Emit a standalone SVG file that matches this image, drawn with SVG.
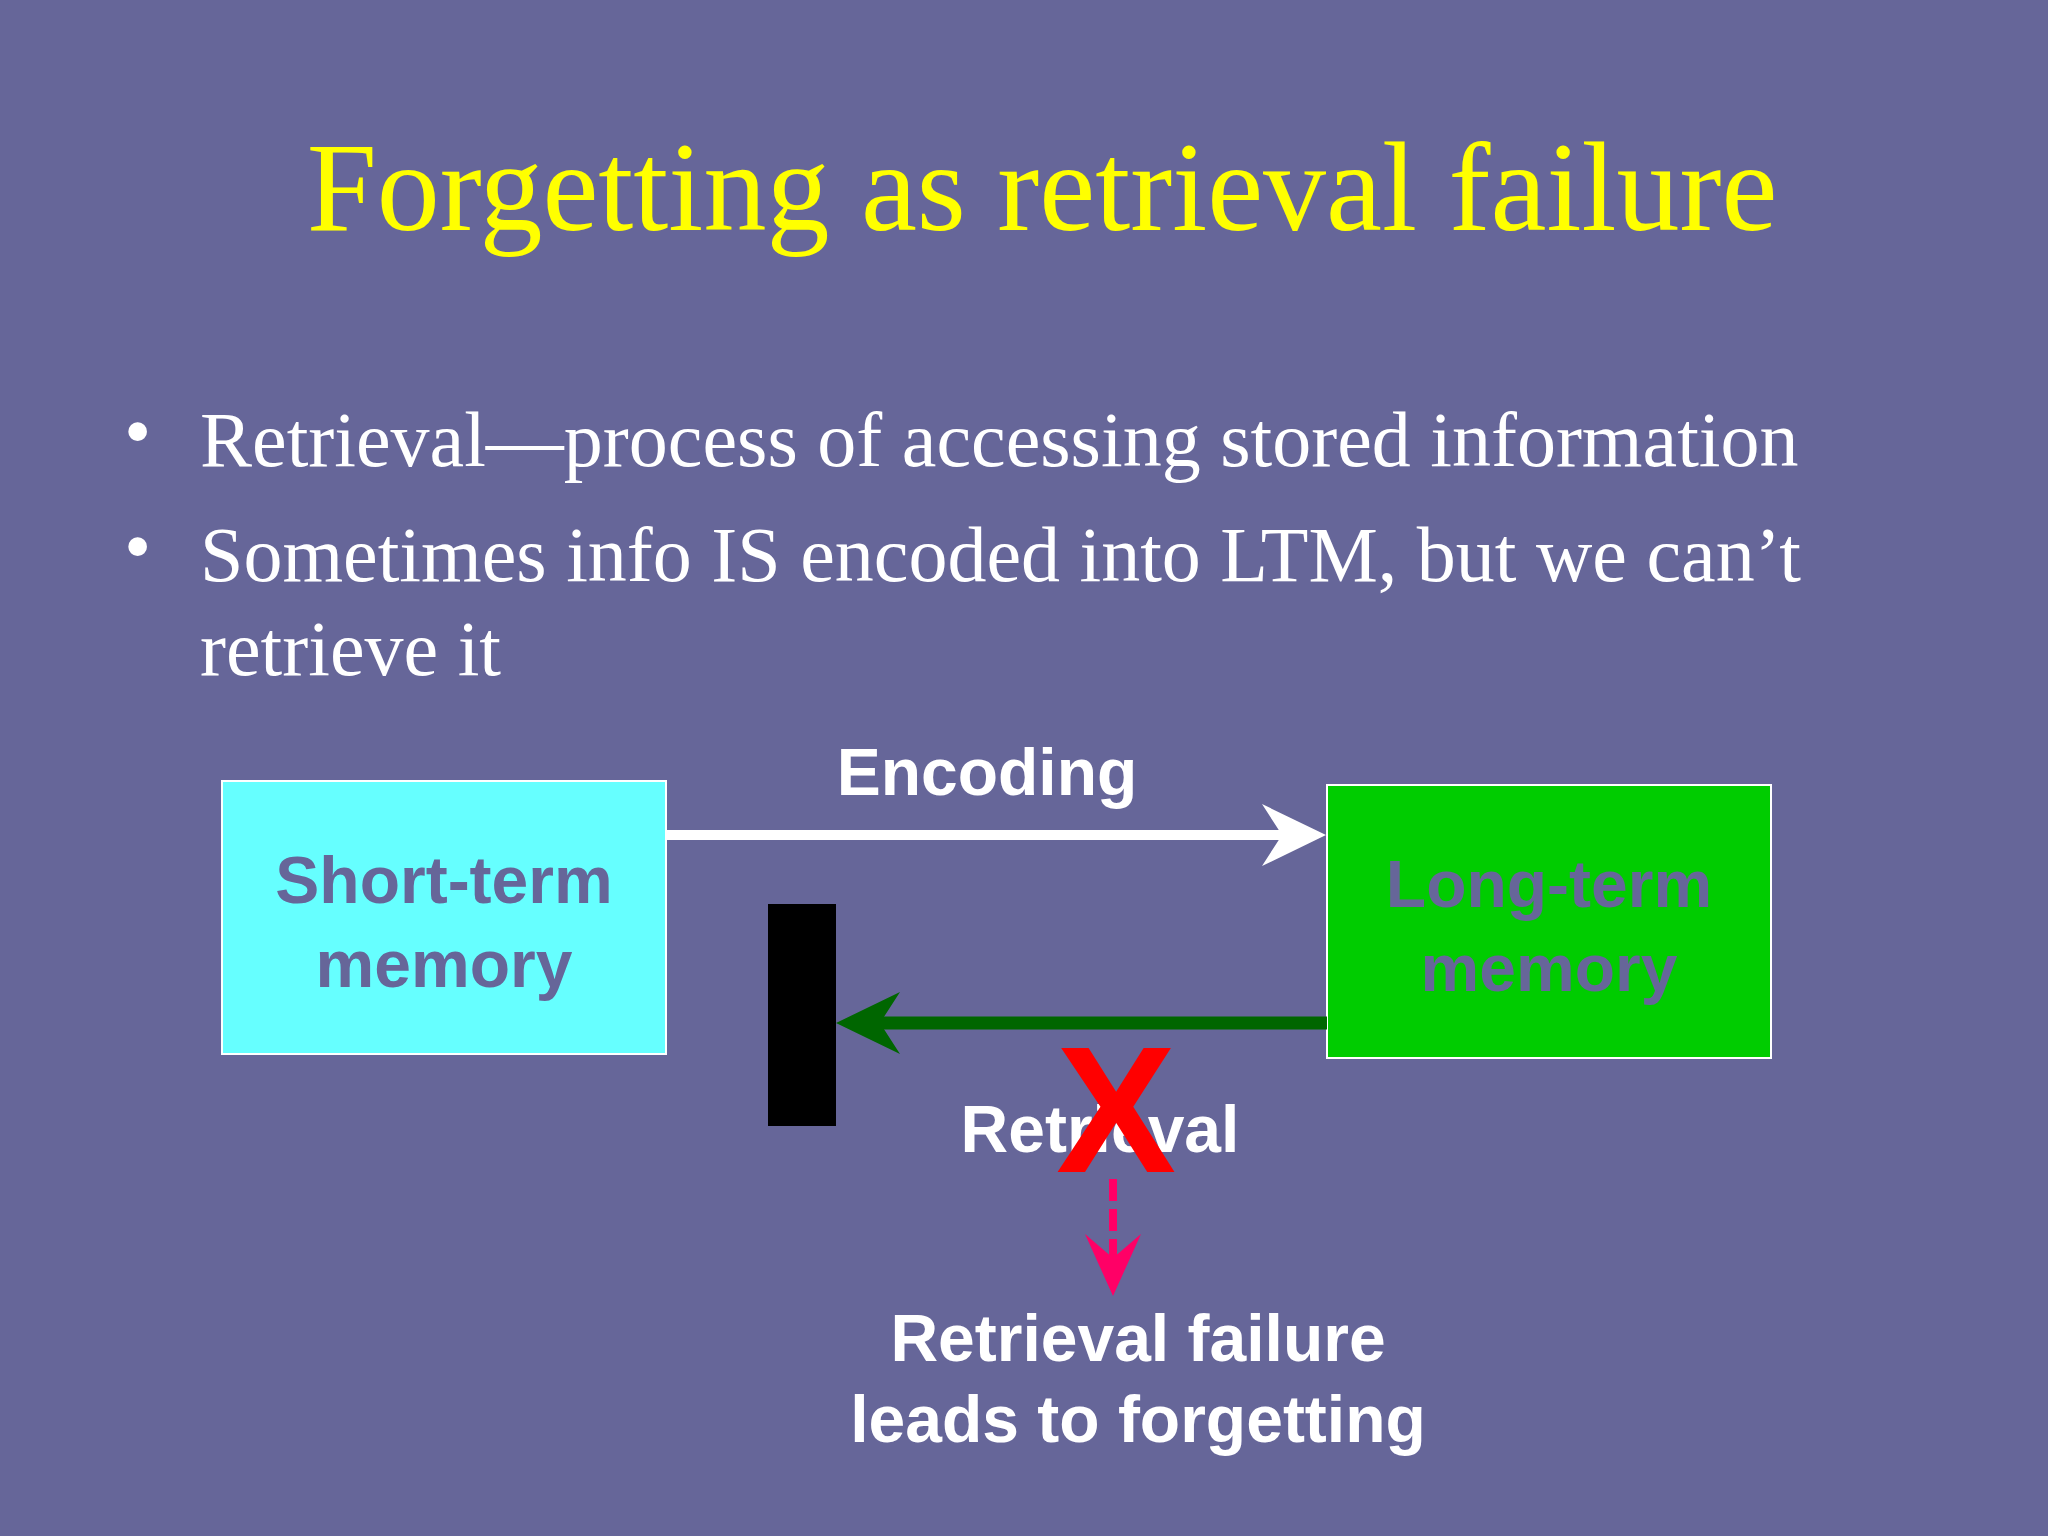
<svg xmlns="http://www.w3.org/2000/svg" width="2048" height="1536" viewBox="0 0 2048 1536">
<style>
.serif{font-family:"Liberation Serif","Times New Roman",serif}
.sans{font-family:"Liberation Sans",Arial,sans-serif;font-weight:bold;text-anchor:middle}
.bul{fill:#fff;font-size:78px}
</style>
<rect width="2048" height="1536" fill="#666699"/>
<text class="serif" x="1042" y="230" font-size="126" fill="#ffff00" text-anchor="middle">Forgetting as retrieval failure</text>
<g id="bullets" class="serif bul">
<text x="124" y="458">•</text><text x="200" y="466">Retrieval—process of accessing stored information</text>
<text x="124" y="573">•</text><text x="200" y="581">Sometimes info IS encoded into LTM, but we can’t</text>
<text x="200" y="675">retrieve it</text>
</g>
<g id="stm"><rect x="222" y="781" width="444" height="273" fill="#66ffff" stroke="#fff" stroke-width="2"/>
<text class="sans" x="444" y="903" font-size="66" fill="#666699">Short-term</text>
<text class="sans" x="444" y="987" font-size="66" fill="#666699">memory</text></g>
<g id="ltm"><rect x="1327" y="785" width="444" height="273" fill="#00cc00" stroke="#fff" stroke-width="2"/>
<text class="sans" x="1549" y="907" font-size="66" fill="#666699">Long-term</text>
<text class="sans" x="1549" y="991" font-size="66" fill="#666699">memory</text></g>
<g id="block"><rect x="768" y="904" width="68" height="222" fill="#000"/></g>
<g id="connectors">
<line x1="666" y1="835" x2="1300" y2="835" stroke="#fff" stroke-width="10"/>
<path d="M1262,804 L1326,835 L1262,866 L1282,835 Z" fill="#fff"/>
<line x1="1327" y1="1023" x2="880" y2="1023" stroke="#006600" stroke-width="13"/>
<path d="M900,992 L836,1023 L900,1054 L880,1023 Z" fill="#006600"/>
<line x1="1113" y1="1179" x2="1113" y2="1270" stroke="#ff0066" stroke-width="8" stroke-dasharray="22,8"/>
<path d="M1085,1234 L1113,1296 L1141,1234 L1113,1258 Z" fill="#ff0066"/>
</g>
<text class="sans" x="987" y="795" font-size="66" fill="#fff">Encoding</text>
<text class="sans" x="1100" y="1152" font-size="66" fill="#fff">Retrieval</text>
<text class="sans" x="1116" y="1172" font-size="180" fill="#ff0000">X</text>
<text class="sans" x="1138" y="1361" font-size="66" fill="#fff">Retrieval failure</text>
<text class="sans" x="1138" y="1442" font-size="66" fill="#fff">leads to forgetting</text>
</svg>
